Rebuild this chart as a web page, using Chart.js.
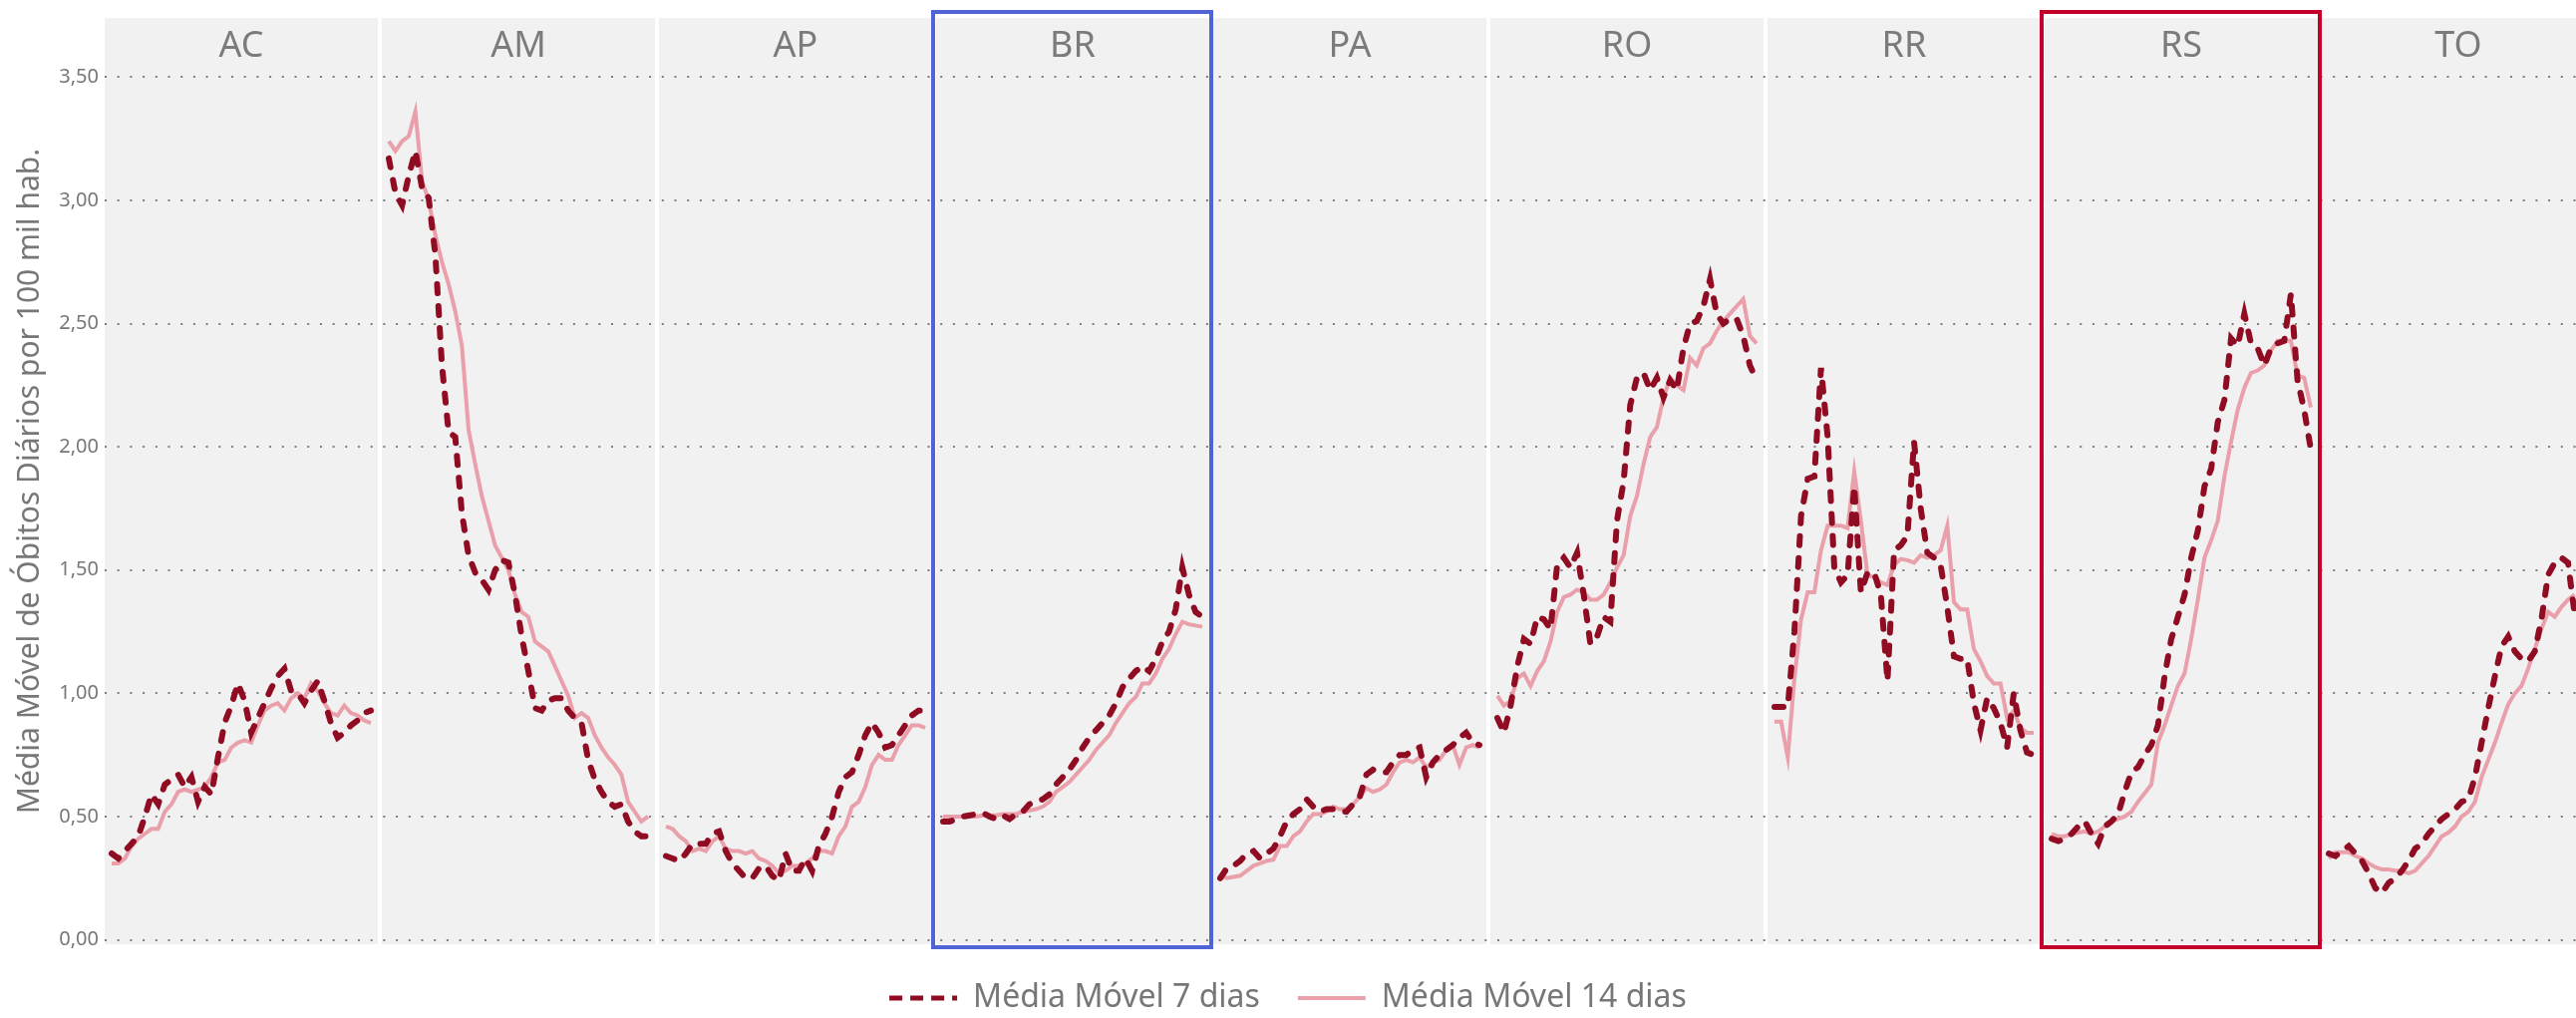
<!DOCTYPE html>
<html>
<head>
<meta charset="utf-8">
<script src="https://cdn.jsdelivr.net/npm/chart.js@4.4.0/dist/chart.umd.min.js"></script>
<style>
  html, body { margin: 0; padding: 0; background: #fff; }
  #wrap { width: 2584px; height: 1021px; }
</style>
</head>
<body>
<div id="wrap"><canvas id="myChart"></canvas></div>
<script>
var states = ['AC', 'AM', 'AP', 'BR', 'PA', 'RO', 'RR', 'RS', 'TO'];
var yTicks = [0, 0.5, 1, 1.5, 2, 2.5, 3, 3.5];

// média móvel 7 dias
var ac7 = [0.35,0.33,0.36,0.39,0.42,0.50,0.59,0.55,0.63,0.65, 0.67,0.62,0.66,0.56,0.62,0.59,0.74,0.88,0.95,1.04, 0.97,0.84,0.90,0.96,1.02,1.07,1.10,1.01,1.00,0.96, 1.01,1.05,0.97,0.88,0.82,0.84,0.87,0.89,0.92,0.93];
var am7 = [3.17,3.03,2.98,3.10,3.20,3.05,3.01,2.78,2.33,2.06, 2.04,1.73,1.56,1.49,1.46,1.42,1.50,1.54,1.53,1.40, 1.23,1.09,0.94,0.93,0.97,0.98,0.98,0.93,0.90,0.88, 0.73,0.65,0.60,0.56,0.54,0.55,0.48,0.44,0.42,0.42];
var ap7 = [0.34,0.33,0.32,0.35,0.39,0.39,0.39,0.43,0.44,0.36, 0.31,0.28,0.25,0.25,0.29,0.30,0.26,0.24,0.35,0.28, 0.28,0.33,0.28,0.38,0.43,0.50,0.60,0.66,0.68,0.75, 0.83,0.88,0.84,0.78,0.79,0.83,0.87,0.91,0.93,0.93];
var br7 = [0.48,0.48,0.49,0.50,0.505,0.51,0.515,0.50,0.49,0.505, 0.49,0.51,0.52,0.55,0.56,0.57,0.59,0.63,0.66,0.69, 0.73,0.78,0.82,0.85,0.88,0.91,0.96,1.025,1.06,1.09, 1.11,1.09,1.14,1.21,1.25,1.34,1.51,1.40,1.33,1.31];
var pa7 = [0.25,0.29,0.30,0.32,0.35,0.36,0.33,0.35,0.37,0.42, 0.48,0.51,0.53,0.57,0.54,0.52,0.53,0.53,0.52,0.52, 0.55,0.58,0.67,0.69,0.68,0.68,0.72,0.75,0.75,0.77, 0.78,0.66,0.72,0.75,0.77,0.79,0.82,0.84,0.80,0.79];
var ro7 = [0.90,0.84,0.95,1.11,1.22,1.20,1.31,1.30,1.26,1.52, 1.55,1.51,1.57,1.40,1.20,1.23,1.31,1.29,1.70,1.86, 2.17,2.28,2.30,2.23,2.28,2.20,2.27,2.23,2.40,2.50, 2.51,2.57,2.68,2.54,2.50,2.52,2.52,2.45,2.33,2.27];
var rr7 = [0.945,0.945,0.945,1.25,1.72,1.87,1.88,2.32,2.04,1.51, 1.45,1.48,1.84,1.41,1.49,1.49,1.40,1.05,1.58,1.60, 1.64,2.02,1.75,1.57,1.55,1.52,1.35,1.15,1.14,1.14, 0.96,0.85,0.98,0.94,0.88,0.78,1.00,0.85,0.76,0.75];
var rs7 = [0.41,0.40,0.41,0.43,0.46,0.48,0.43,0.39,0.46,0.48, 0.51,0.60,0.68,0.70,0.75,0.79,0.87,1.07,1.22,1.31, 1.40,1.55,1.66,1.84,1.91,2.10,2.19,2.44,2.41,2.54, 2.42,2.40,2.33,2.40,2.42,2.43,2.62,2.27,2.15,1.99];
var to7 = [0.35,0.34,0.36,0.38,0.35,0.32,0.27,0.21,0.19,0.23, 0.25,0.28,0.32,0.37,0.39,0.43,0.46,0.49,0.51,0.53, 0.56,0.57,0.66,0.80,0.94,1.07,1.19,1.23,1.17,1.14, 1.13,1.17,1.30,1.48,1.53,1.55,1.53,1.32];

// média móvel 14 dias
var ac14 = [0.31,0.31,0.33,0.38,0.41,0.43,0.45,0.45,0.52,0.55, 0.60,0.61,0.60,0.61,0.62,0.66,0.72,0.73,0.78,0.80, 0.81,0.80,0.87,0.93,0.95,0.96,0.93,0.98,1.00,0.98, 1.04,1.01,0.96,0.92,0.91,0.95,0.92,0.91,0.89,0.88];
var am14 = [3.24,3.20,3.24,3.26,3.36,3.08,3.00,2.86,2.75,2.66, 2.55,2.41,2.07,1.93,1.80,1.70,1.60,1.55,1.50,1.40, 1.33,1.31,1.21,1.19,1.17,1.11,1.05,0.99,0.90,0.92, 0.90,0.83,0.78,0.74,0.71,0.67,0.56,0.52,0.48,0.50];
var ap14 = [0.46,0.45,0.42,0.40,0.36,0.37,0.36,0.40,0.42,0.37, 0.36,0.36,0.35,0.36,0.33,0.32,0.30,0.27,0.28,0.30, 0.30,0.31,0.33,0.36,0.36,0.35,0.42,0.46,0.54,0.56, 0.62,0.71,0.75,0.73,0.73,0.79,0.83,0.87,0.87,0.86];
var br14 = [0.50,0.50,0.50,0.50,0.50,0.50,0.505,0.505,0.505,0.51, 0.51,0.51,0.52,0.525,0.53,0.54,0.56,0.60,0.62,0.64, 0.67,0.70,0.73,0.77,0.80,0.83,0.88,0.92,0.96,0.985, 1.04,1.04,1.08,1.14,1.18,1.24,1.29,1.28,1.275,1.27];
var pa14 = [0.26,0.25,0.255,0.26,0.28,0.30,0.31,0.32,0.325,0.38, 0.38,0.42,0.44,0.48,0.51,0.51,0.52,0.54,0.53,0.53, 0.55,0.58,0.615,0.60,0.61,0.63,0.68,0.72,0.73,0.72, 0.74,0.70,0.72,0.73,0.77,0.79,0.71,0.78,0.79,0.78];
var ro14 = [0.99,0.95,0.97,1.06,1.08,1.03,1.09,1.13,1.21,1.33, 1.39,1.40,1.42,1.41,1.38,1.38,1.40,1.45,1.51,1.56, 1.72,1.80,1.93,2.04,2.08,2.20,2.28,2.25,2.23,2.36, 2.33,2.40,2.42,2.47,2.51,2.54,2.57,2.60,2.45,2.42];
var rr14 = [0.885,0.885,0.74,1.06,1.30,1.41,1.41,1.58,1.68,1.68, 1.68,1.67,1.90,1.70,1.48,1.47,1.45,1.44,1.52,1.545, 1.54,1.53,1.56,1.55,1.56,1.58,1.68,1.37,1.34,1.34, 1.18,1.13,1.07,1.04,1.04,0.90,0.93,0.86,0.84,0.84];
var rs14 = [0.43,0.42,0.42,0.43,0.435,0.44,0.43,0.44,0.46,0.48, 0.49,0.50,0.52,0.56,0.595,0.63,0.80,0.87,0.95,1.03, 1.08,1.22,1.38,1.55,1.62,1.70,1.88,2.02,2.15,2.24, 2.30,2.31,2.33,2.39,2.43,2.43,2.43,2.29,2.28,2.16];
var to14 = [0.33,0.355,0.355,0.355,0.34,0.33,0.31,0.295,0.285,0.285, 0.28,0.28,0.27,0.28,0.31,0.34,0.38,0.42,0.435,0.46, 0.50,0.52,0.56,0.66,0.73,0.80,0.88,0.955,1.00,1.03, 1.10,1.18,1.26,1.33,1.31,1.35,1.38,1.40];

var mm7 = [ac7, am7, ap7, br7, pa7, ro7, rr7, rs7, to7];
var mm14 = [ac14, am14, ap14, br14, pa14, ro14, rr14, rs14, to14];

// each panel is PANEL days wide on the shared x axis
var PANEL = 41.7, PAD = 1.05, XMAX = 371.85;

function buildSeries(list) {
    var pts = [];
    list.forEach(function(vals, i) {
        vals.forEach(function(v, j) {
            pts.push({x: i * PANEL + PAD + j, y: v});
        });
        pts.push({x: i * PANEL + PAD + vals.length, y: null});
    });
    return pts;
}

var FONT = '"Noto Sans", "Open Sans", sans-serif';
var GREY = '#777777';

var panelsPlugin = {
    id: 'panels',
    beforeDraw: function(chart) {
        var ctx = chart.ctx, xs = chart.scales.x, a = chart.chartArea;
        ctx.save();
        ctx.beginPath();
        ctx.rect(a.left, 0, a.right - a.left, chart.height);
        ctx.clip();
        states.forEach(function(s, i) {
            var l = xs.getPixelForValue(i * PANEL);
            var r = xs.getPixelForValue((i + 1) * PANEL) - 4;
            ctx.fillStyle = '#f1f1f1';
            ctx.fillRect(l, a.top, r - l, a.bottom - a.top);
            ctx.fillStyle = '#7b7b7b';
            ctx.font = '36px ' + FONT;
            ctx.textAlign = 'center';
            ctx.textBaseline = 'alphabetic';
            ctx.fillText(s, (l + r) / 2, 57);
        });
        ctx.restore();
    },
    afterDraw: function(chart) {
        var ctx = chart.ctx, xs = chart.scales.x, a = chart.chartArea;
        var marks = [['BR', '#5064d6'], ['RS', '#c3002a']];
        ctx.save();
        marks.forEach(function(m) {
            var i = states.indexOf(m[0]);
            var l = xs.getPixelForValue(i * PANEL) - 3;
            var r = xs.getPixelForValue((i + 1) * PANEL) - 2;
            ctx.strokeStyle = m[1];
            ctx.lineWidth = 4;
            ctx.strokeRect(l, a.top - 6, r - l, a.bottom - a.top + 9);
        });
        ctx.restore();
    }
};

var CHART = document.getElementById('myChart');

var myChart = new Chart(CHART, {
    type: 'line',
    data: {
        datasets: [{
            label: 'Média Móvel 7 dias',
            data: buildSeries(mm7),
            borderColor: '#900c22',
            backgroundColor: '#900c22',
            borderWidth: 6,
            borderDash: [9, 13],
            borderCapStyle: 'round',
            pointRadius: 0,
            tension: 0,
            spanGaps: false
        }, {
            label: 'Média Móvel 14 dias',
            data: buildSeries(mm14),
            borderColor: '#e9a0aa',
            backgroundColor: '#e9a0aa',
            borderWidth: 4,
            pointRadius: 0,
            tension: 0,
            spanGaps: false
        }]
    },
    options: {
        responsive: true,
        maintainAspectRatio: false,
        animation: false,
        layout: { padding: { top: 18, right: 0, bottom: -6, left: 0 } },
        scales: {
            x: {
                type: 'linear',
                min: 0,
                max: XMAX,
                display: false
            },
            y: {
                min: -0.018,
                max: 3.74,
                afterBuildTicks: function(s) {
                    s.ticks = yTicks.map(function(v) { return {value: v}; });
                },
                afterFit: function(s) { s.width = 105; },
                ticks: {
                    color: GREY,
                    padding: 6,
                    font: { size: 20, family: FONT },
                    callback: function(v) { return v.toFixed(2).replace('.', ','); }
                },
                grid: { color: '#7f7f7f', lineWidth: 2, drawTicks: false },
                border: { display: false, dash: [2, 10.7] },
                title: {
                    display: true,
                    text: 'Média Móvel de Óbitos Diários por 100 mil hab.',
                    color: GREY,
                    font: { size: 30, family: FONT },
                    padding: { top: 12, bottom: 0 }
                }
            }
        },
        plugins: {
            legend: {
                position: 'bottom',
                labels: {
                    usePointStyle: true,
                    pointStyle: 'line',
                    pointStyleWidth: 68,
                    color: GREY,
                    padding: 38,
                    font: { size: 32, family: FONT },
                    generateLabels: function(chart) {
                        var items = Chart.defaults.plugins.legend.labels.generateLabels(chart);
                        items.forEach(function(it) {
                            var ds = chart.data.datasets[it.datasetIndex];
                            it.strokeStyle = ds.borderColor;
                            it.lineWidth = ds.borderDash ? 5 : 4;
                            it.lineDash = ds.borderDash ? [13, 8] : [];
                            it.lineCap = 'butt';
                        });
                        return items;
                    }
                }
            },
            tooltip: { enabled: false }
        }
    },
    plugins: [panelsPlugin]
});
</script>
</body>
</html>
